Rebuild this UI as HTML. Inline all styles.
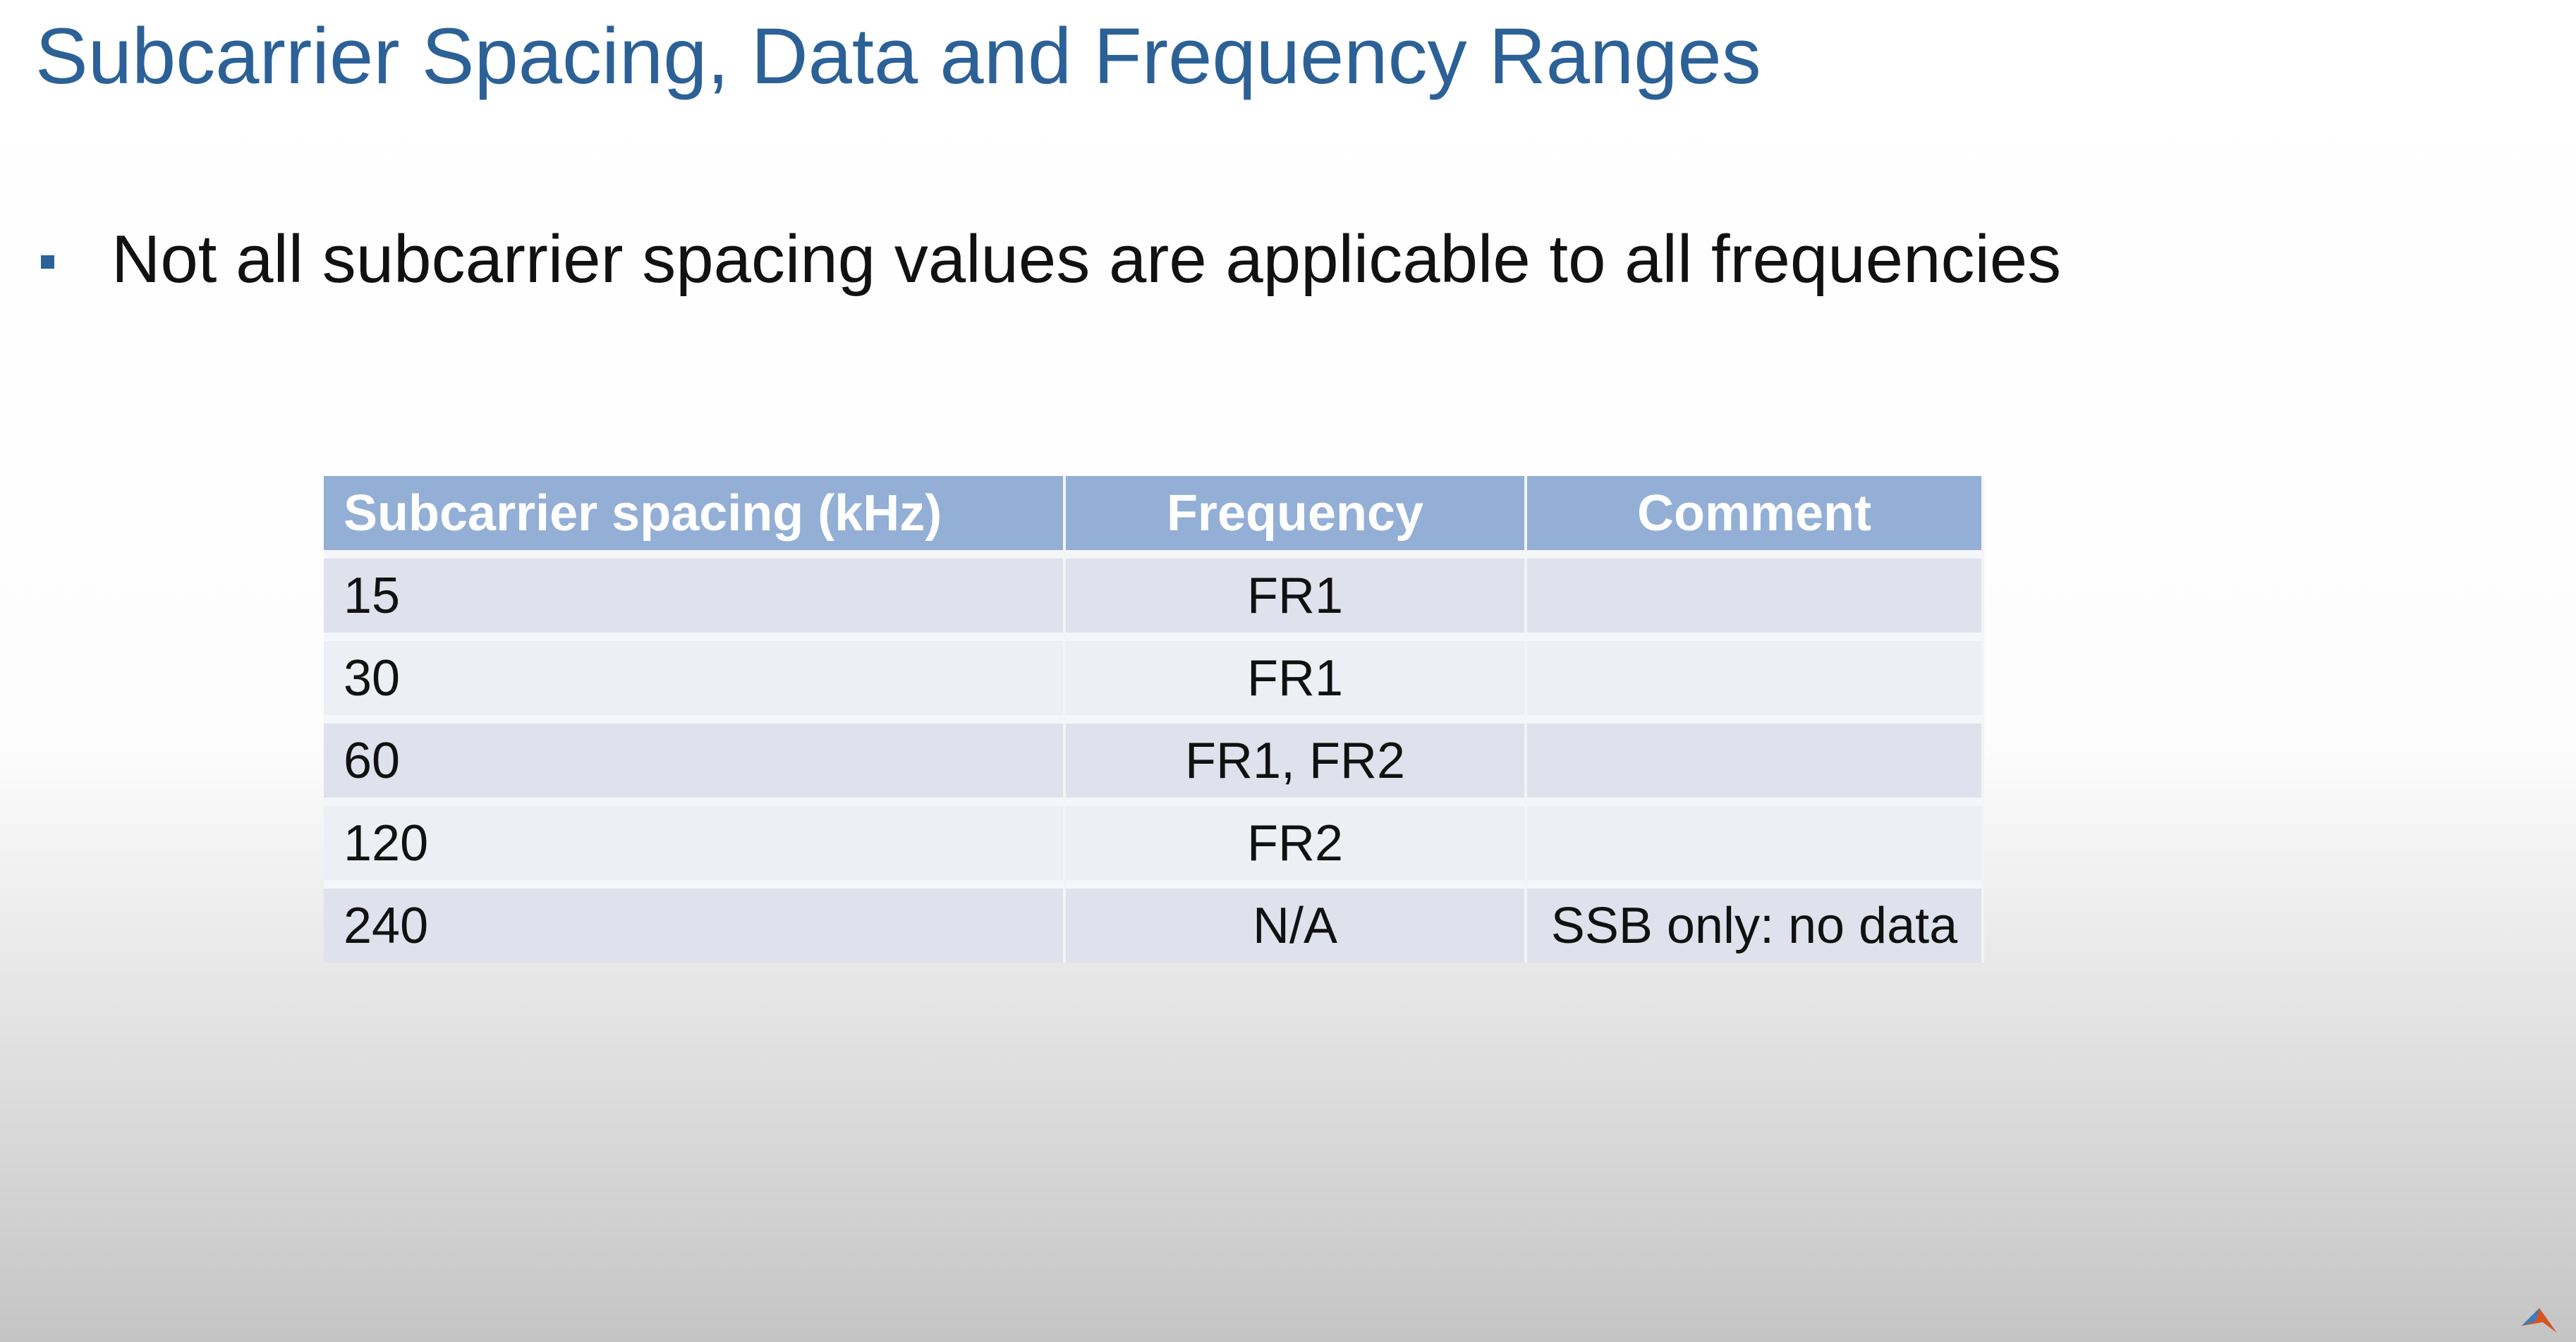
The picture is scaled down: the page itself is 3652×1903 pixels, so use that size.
<!DOCTYPE html>
<html><head><meta charset="utf-8"><style>
html,body{margin:0;padding:0}
body{width:3652px;height:1903px;position:relative;overflow:hidden;font-family:"Liberation Sans",sans-serif;
background:linear-gradient(to bottom,#ffffff 0px,#fdfdfd 1050px,#e6e6e6 1400px,#cfcfcf 1750px,#c4c4c4 1903px);}
#title{position:absolute;left:50px;top:15px;font-size:112px;color:#2c6197;white-space:nowrap;}
#bullet{position:absolute;left:58px;top:362px;width:19px;height:19px;background:#2c6197;}
#btext{position:absolute;left:158px;top:313px;font-size:96px;color:#111;white-space:nowrap;}
table{position:absolute;left:459px;top:675px;width:2354px;border-collapse:separate;border-spacing:0;}
td,th{height:105px;padding:0;font-size:72px;color:#111;border-right:4px solid #f4f4f8;border-bottom:12px solid #f5f6f9;}
tr:last-child td{border-bottom:none}
th{background:#94afd5;color:#fff;font-weight:bold;font-size:72px;}
tr.o td{background:#dfe2ec}
tr.e td{background:#eeeff4}
td.c{text-align:center}
.l{text-align:left;padding-left:28px}
</style></head><body>
<div id="title">Subcarrier Spacing, Data and Frequency Ranges</div>
<div id="bullet"></div>
<div id="btext">Not all subcarrier spacing values are applicable to all frequencies</div>
<table>
<tr><th class="l" style="width:1020px">Subcarrier spacing (kHz)</th><th style="width:650px">Frequency</th><th>Comment</th></tr>
<tr class="o"><td class="l">15</td><td class="c">FR1</td><td></td></tr>
<tr class="e"><td class="l">30</td><td class="c">FR1</td><td></td></tr>
<tr class="o"><td class="l">60</td><td class="c">FR1, FR2</td><td></td></tr>
<tr class="e"><td class="l">120</td><td class="c">FR2</td><td></td></tr>
<tr class="o"><td class="l">240</td><td class="c">N/A</td><td class="c">SSB only: no data</td></tr>
</table>
<svg style="position:absolute;left:3570px;top:1845px" width="60" height="50">
<polygon points="5,35 30,10 55,45 35,30" fill="#d9531e"/><polygon points="5,35 25,28 30,10" fill="#3a7bbf"/></svg>
</body></html>
